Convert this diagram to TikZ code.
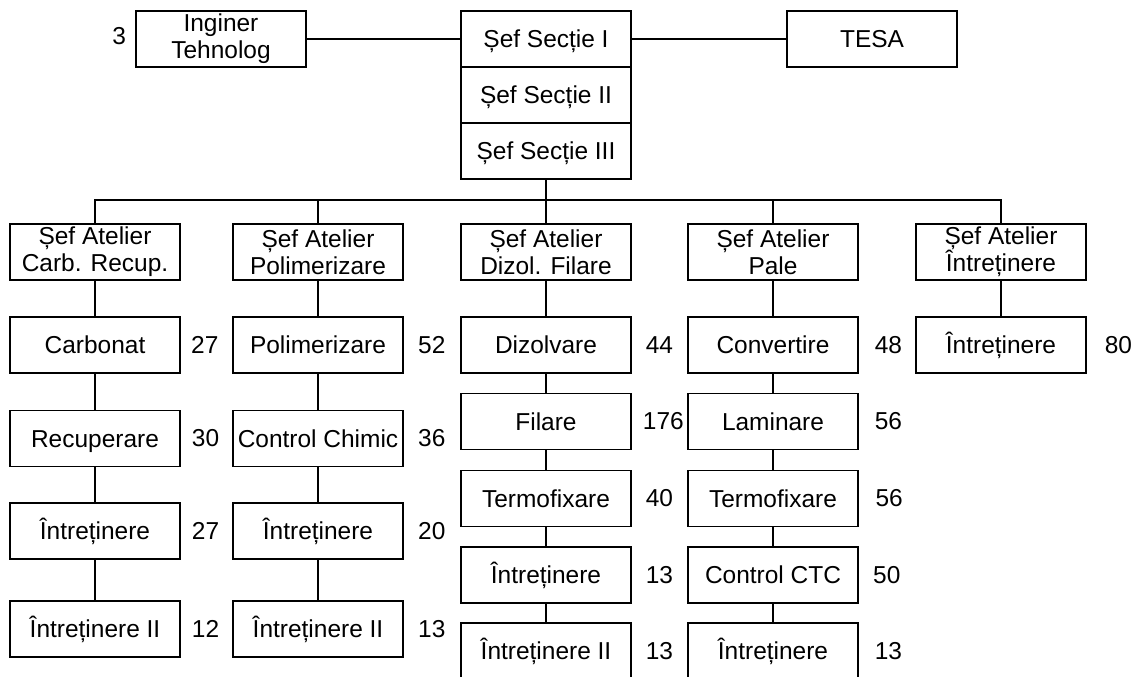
\documentclass[tikz,border=0pt]{standalone}
\usepackage{fontspec}
\setmainfont{Liberation Sans}
\usetikzlibrary{positioning}

\begin{document}
\begin{tikzpicture}
        [x=0.025cm,y=-0.025cm,line width=1.4pt,
        every node/.style={inner sep=0pt,align=center,font=\fontsize{17.4}{19.2}\selectfont},
        frame/.style={rectangle,draw,minimum height=1.4cm,minimum width=4.25cm},
        box/.style={frame,text height=12.5pt,text depth=0pt},
        head/.style={frame},
        ]
        \useasboundingbox (0,0) rectangle (1134,677);

        % top level
        \node[head] (inginer) at (221,39) {Inginer\\Tehnolog};
        \node[box] (sef-1) at (546,39) {Șef Secție I};
        \node[box] (sef-2) at (546,95) {Șef Secție II};
        \node[box] (sef-3) at (546,151) {Șef Secție III};
        \node[box] (tesa) at (872,39) {TESA};
        \node[left=0.2cm of inginer,yshift=0.07cm] (n-inginer) {3};
        \draw (inginer) -- (sef-1);
        \draw (sef-1) -- (tesa);

        % ateliers
        \node[head] (c1-0) at (95,252) {Șef Atelier\\Carb. Recup.};
        \node[head] (c2-0) at (318,252) {Șef Atelier\\Polimerizare};
        \node[head] (c3-0) at (546,252) {Șef Atelier\\Dizol. Filare};
        \node[head] (c4-0) at (773,252) {Șef Atelier\\Pale};
        \node[head] (c5-0) at (1001,252) {Șef Atelier\\Întreținere};
        \coordinate (bus) at (546,200);
        \draw (sef-3) -- (bus);
        \draw (c1-0.north) |- (bus);
        \draw (c2-0.north) |- (bus);
        \draw (c3-0.north) |- (bus);
        \draw (c4-0.north) |- (bus);
        \draw (c5-0.north) |- (bus);

        % carbonat - recuperare
        \node[box] (c1-1) at (95,345) {Carbonat};
        \node[box] (c1-2) at (95,438.5) {Recuperare};
        \node[box] (c1-3) at (95,531) {Întreținere};
        \node[box] (c1-4) at (95,629) {Întreținere II};
        \draw (c1-0) -- (c1-1) -- (c1-2) -- (c1-3) -- (c1-4);
        \node[right=0.23cm of c1-1] (n1-1) {27};
        \node[right=0.25cm of c1-2] (n1-2) {30};
        \node[right=0.25cm of c1-3] (n1-3) {27};
        \node[right=0.25cm of c1-4] (n1-4) {12};

        % polimerizare
        \node[box] (c2-1) at (318,345) {Polimerizare};
        \node[box] (c2-2) at (318,438.5) {Control Chimic};
        \node[box] (c2-3) at (318,531) {Întreținere};
        \node[box] (c2-4) at (318,629) {Întreținere II};
        \draw (c2-0) -- (c2-1) -- (c2-2) -- (c2-3) -- (c2-4);
        \node[right=0.33cm of c2-1] (n2-1) {52};
        \node[right=0.33cm of c2-2] (n2-2) {36};
        \node[right=0.33cm of c2-3] (n2-3) {20};
        \node[right=0.33cm of c2-4] (n2-4) {13};

        % dizolvare - filare
        \node[box] (c3-1) at (546,345) {Dizolvare};
        \node[box] (c3-2) at (546,421.5) {Filare};
        \node[box] (c3-3) at (546,498.5) {Termofixare};
        \node[box] (c3-4) at (546,575) {Întreținere};
        \node[box] (c3-5) at (546,651) {Întreținere II};
        \draw (c3-0) -- (c3-1) -- (c3-2) -- (c3-3) -- (c3-4) -- (c3-5);
        \node[right=0.32cm of c3-1] (n3-1) {44};
        \node[right=0.25cm of c3-2] (n3-2) {176};
        \node[right=0.32cm of c3-3] (n3-3) {40};
        \node[right=0.32cm of c3-4] (n3-4) {13};
        \node[right=0.32cm of c3-5] (n3-5) {13};

        % pale
        \node[box] (c4-1) at (773,345) {Convertire};
        \node[box] (c4-2) at (773,421.5) {Laminare};
        \node[box] (c4-3) at (773,498.5) {Termofixare};
        \node[box] (c4-4) at (773,575) {Control CTC};
        \node[box] (c4-5) at (773,651) {Întreținere};
        \draw (c4-0) -- (c4-1) -- (c4-2) -- (c4-3) -- (c4-4) -- (c4-5);
        \node[right=0.37cm of c4-1] (n4-1) {48};
        \node[right=0.37cm of c4-2] (n4-2) {56};
        \node[right=0.39cm of c4-3] (n4-3) {56};
        \node[right=0.33cm of c4-4] (n4-4) {50};
        \node[right=0.37cm of c4-5] (n4-5) {13};

        % intretinere
        \node[box] (c5-1) at (1001,345) {Întreținere};
        \draw (c5-0) -- (c5-1);
        \node[right=0.42cm of c5-1] (n5-1) {80};
    \end{tikzpicture}
\end{document}
